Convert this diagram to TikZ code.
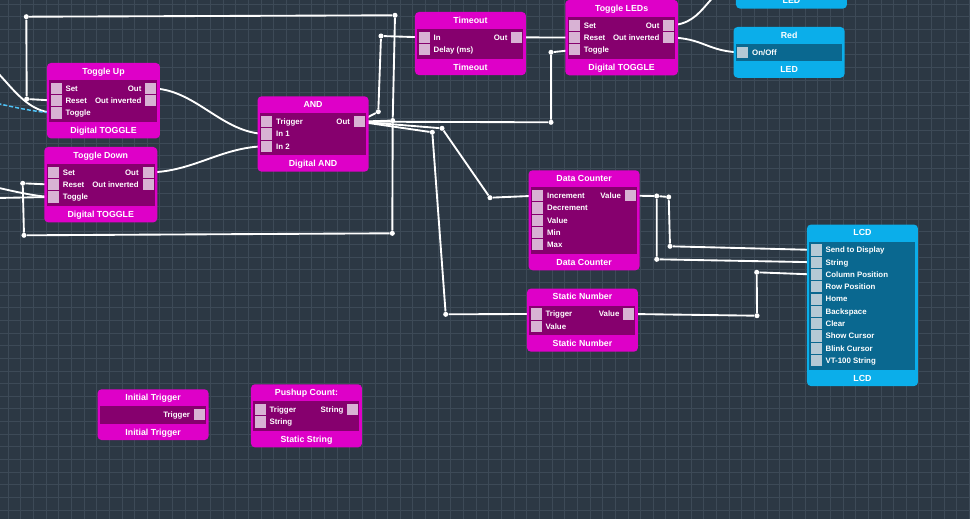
\documentclass[tikz,border=0pt]{standalone}
\usepackage{fontspec}
\setmainfont{Liberation Sans}
\definecolor{slate}{HTML}{2C3844}
\definecolor{gridc}{HTML}{3D4A57}
\definecolor{fuchsia}{HTML}{DE00C8}
\definecolor{plum}{HTML}{86006E}
\definecolor{blush}{HTML}{D8B2D4}
\definecolor{sky}{HTML}{0BAEEA}
\definecolor{ocean}{HTML}{0A6890}
\definecolor{mist}{HTML}{B4C9D5}
\definecolor{selc}{HTML}{4FC3F7}
\pgfdeclarelayer{bg}
\pgfsetlayers{bg,main}
\tikzset{
  mag body/.style={fill=fuchsia, rounded corners=3pt, inner sep=0, anchor=north west},
  mag panel/.style={fill=plum, inner sep=0, anchor=north},
  mag port/.style={fill=blush, minimum width=8.25pt, minimum height=8.4pt, inner sep=0},
  cyan body/.style={fill=sky, rounded corners=3pt, inner sep=0, anchor=north west},
  cyan panel/.style={fill=ocean, inner sep=0, anchor=north},
  cyan port/.style={fill=mist, minimum width=8.25pt, minimum height=8.4pt, inner sep=0},
  ttl/.style={text=white, font=\fontsize{6.6}{7}\selectfont\bfseries, inner sep=0, text height=4.7pt, text depth=0pt},
  lbl/.style={text=white, font=\fontsize{5.9}{6}\selectfont\bfseries, inner sep=0, text height=4.2pt, text depth=0pt},
  wire/.style={white, line width=1.4pt, line join=round},
  sel/.style={selc, line width=1.1pt, dash pattern=on 3pt off 1.5pt},
  dot/.style={circle, fill=white, minimum size=3.8pt, inner sep=0},
  gridline/.style={gridc, line width=0.5pt}
}
% block: [width] set, name, left, top, title, footer, rows
\newcommand{\fblock}[8][111]{%
  \node[#2 body, minimum width={#1*0.75pt}, minimum height={(38.5+12.3*#8)*0.75pt}] (#3) at (#4,#5) {};
  \node[#2 panel, minimum width={(#1-5)*0.75pt}, minimum height={(5+12.3*#8)*0.75pt}] (#3-p) at ([yshift=-12.75pt]#3.north) {};
  \node[ttl] at ([yshift=-6.2pt]#3.north) {#6};
  \node[ttl] at ([yshift=6.2pt]#3.south) {#7};
}
\newcommand{\inports}[3]{%
  \foreach \lab [count=\i] in {#3} {
    \node[#1 port] (#2-l\i) at ([shift={(9.5,{25.65+12.3*(\i-1)})}]#2.north west) {};
    \node[lbl, anchor=west] at ([xshift=2.5pt]#2-l\i.east) {\lab};
  }}
\newcommand{\outports}[3]{%
  \foreach \lab [count=\i] in {#3} {
    \node[#1 port] (#2-r\i) at ([shift={(-9.5,{25.65+12.3*(\i-1)})}]#2.north east) {};
    \node[lbl, anchor=east] at ([xshift=-2.5pt]#2-r\i.west) {\lab};
  }}
\begin{document}
\begin{tikzpicture}[x=0.75pt,y=-0.75pt]
  \useasboundingbox (0,0) rectangle (970,519);

  % blocks
  \fblock[113]{mag}{tup}{46.7}{62.7}{Toggle Up}{Digital TOGGLE}{3}
  \inports{mag}{tup}{Set,Reset,Toggle} \outports{mag}{tup}{Out,Out inverted}
  \fblock[113]{mag}{tdn}{44}{146.7}{Toggle Down}{Digital TOGGLE}{3}
  \inports{mag}{tdn}{Set,Reset,Toggle} \outports{mag}{tdn}{Out,Out inverted}
  \fblock{mag}{and}{257.3}{96}{AND}{Digital AND}{3}
  \inports{mag}{and}{Trigger,In 1,In 2} \outports{mag}{and}{Out}
  \fblock{mag}{tmo}{414.7}{11.7}{Timeout}{Timeout}{2}
  \inports{mag}{tmo}{In,Delay (ms)} \outports{mag}{tmo}{Out}
  \fblock[112.7]{mag}{tled}{565}{-0.4}{Toggle LEDs}{Digital TOGGLE}{3}
  \inports{mag}{tled}{Set,Reset,Toggle} \outports{mag}{tled}{Out,Out inverted}
  \fblock{mag}{dcnt}{528.3}{170}{Data Counter}{Data Counter}{5}
  \inports{mag}{dcnt}{Increment,Decrement,Value,Min,Max} \outports{mag}{dcnt}{Value}
  \fblock{mag}{snum}{526.7}{288.3}{Static Number}{Static Number}{2}
  \inports{mag}{snum}{Trigger,Value} \outports{mag}{snum}{Value}
  \fblock{mag}{itrg}{97.3}{389}{Initial Trigger}{Initial Trigger}{1}
  \outports{mag}{itrg}{Trigger}
  \fblock{mag}{push}{250.7}{384}{Pushup Count:}{Static String}{2}
  \inports{mag}{push}{Trigger,String} \outports{mag}{push}{String}
  \fblock{cyan}{ledtop}{735.7}{-42.5}{}{LED}{1}
  \coordinate (ledtop-in) at ([shift={(9.5,25.65)}]ledtop.north west);
  \fblock{cyan}{red}{733.3}{26.7}{Red}{LED}{1}
  \inports{cyan}{red}{On/Off}
  \fblock{cyan}{lcd}{806.7}{224.3}{LCD}{LCD}{10}
  \inports{cyan}{lcd}{Send to Display,String,Column Position,Row Position,Home,Backspace,Clear,Show Cursor,Blink Cursor,VT-100 String}

  % junctions
  \foreach \n/\px/\py in {j1/378.3/111.7, j2/381/36, j3/392.7/120.5, j4/395/15.3, j5/26.3/16.7,
      j6/26.7/99, j7/392.3/233.3, j8/24/235.3, j9/22.7/183.3, j10/551/122.3, j11/551/52.3,
      j12/432.3/132.3, j13/445.7/314.3, j14/442/128.3, j15/490/197.7, j16/656.7/196,
      j17/656.7/259.3, j18/668.7/197, j19/670/246.3, j20/757/315.7, j21/756.7/272.3}
    \node[dot] (\n) at (\px,\py) {};
  \coordinate (offa) at (-45,50);
  \coordinate (offb) at (-120,80);
  \coordinate (offc) at (-60,178);
  \coordinate (offd) at (-60,199);

  \begin{pgfonlayer}{bg}
    \fill[slate] (0,0) rectangle (970,519);
    \foreach \gx in {8,20.65,...,970} \draw[gridline] (\gx,0) -- (\gx,519);
    \foreach \gy in {4,16.65,...,519} \draw[gridline] (0,\gy) -- (970,\gy);

    \draw[wire] (and-r1.center) -- (j1) -- (j2) -- (tmo-l1.center);
    \draw[wire] (and-r1.center) -- (j3) -- (j4) -- (j5) -- (j6) -- (tup-l2.center);
    \draw[wire] (j3) -- (j7) -- (j8) -- (j9) -- (tdn-l2.center);
    \draw[wire] (and-r1.center) -- (j10) -- (j11) -- (tled-l3.center);
    \draw[wire] (and-r1.center) -- (j12) -- (j13) -- (snum-l1.center);
    \draw[wire] (and-r1.center) -- (j14) -- (j15) -- (dcnt-l1.center);
    \draw[wire] (dcnt-r1.center) -- (j16) -- (j17) -- (lcd-l2.center);
    \draw[wire] (j16) -- (j18) -- (j19) -- (lcd-l1.center);
    \draw[wire] (snum-r1.center) -- (j20) -- (j21) -- (lcd-l3.center);
    \draw[wire] (tmo-r1.center) -- (tled-l2.center);
    \draw[wire] (tup-r1.center) .. controls +(45,0) and +(-45,0) .. (and-l2.center);
    \draw[wire] (tdn-r1.center) .. controls +(45,0) and +(-45,0) .. (and-l3.center);
    \draw[wire] (tled-r1.center) .. controls +(40,0) and +(-40,0) .. (ledtop-in);
    \draw[wire] (tled-r2.center) .. controls +(35,0) and +(-35,0) .. (red-l1.center);
    \draw[wire] (offa) .. controls +(45,0) and +(-45,0) .. (tup-l3.center);
    \draw[sel] (offb) .. controls +(40,0) and +(-40,0) .. (tup-l3.center);
    \draw[wire] (offc) .. controls +(30,0) and +(-30,0) .. (tdn-l3.center);
    \draw[wire] (offd) -- (tdn-l3.center);
  \end{pgfonlayer}
\end{tikzpicture}
\end{document}
